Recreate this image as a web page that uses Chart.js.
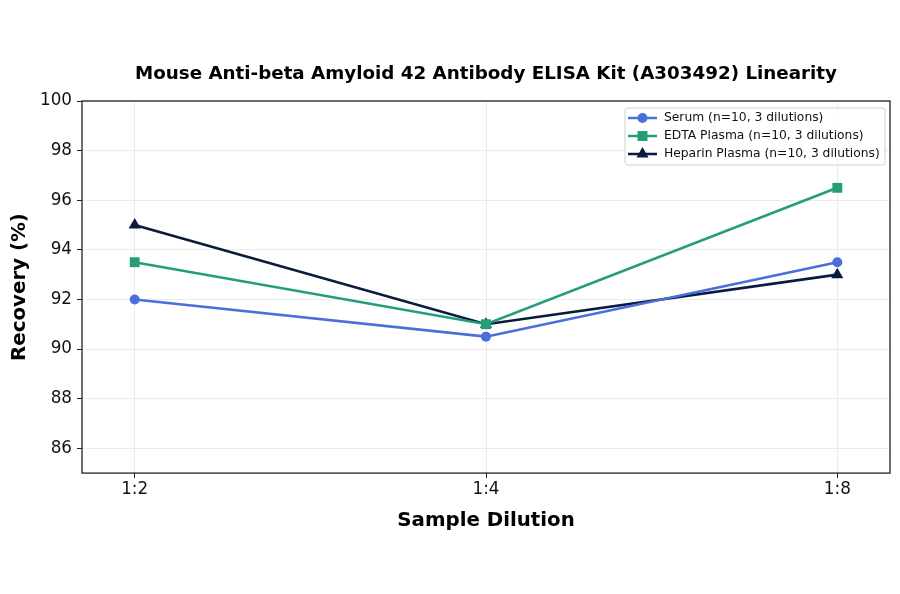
<!DOCTYPE html>
<html>
<head>
<meta charset="utf-8">
<script src="https://cdn.jsdelivr.net/npm/chart.js@4.4.0/dist/chart.umd.min.js"></script>
<style>
  html, body { margin: 0; padding: 0; background: #fff; }
  #wrap { width: 900px; height: 594px; }
</style>
</head>
<body>
<div id="wrap"><canvas id="grafico" width="900" height="594"></canvas></div>
<script>
// Dados
const diluicoes = ['1:2', '1:4', '1:8'];
const serum = [92, 90.5, 93.5];
const edta = [93.5, 91, 96.5];
const heparin = [95, 91, 93];
const yTicks = [86, 88, 90, 92, 94, 96, 98, 100];

const titulo = 'Mouse Anti-beta Amyloid 42 Antibody ELISA Kit (A303492) Linearity';
const nomes = ['Serum (n=10, 3 dilutions)', 'EDTA Plasma (n=10, 3 dilutions)', 'Heparin Plasma (n=10, 3 dilutions)'];
const cores = ['#4a6fdc', '#239e79', '#0b1a3f'];
const marcadores = ['circle', 'rect', 'triangle'];
const raios = [5, 7, 7];

const pontos = arr => arr.map((v, i) => ({ x: i, y: v }));
const FONTE = "'DejaVu Sans', sans-serif";

// título centrado sobre a área do gráfico + moldura completa
const moldura = {
  id: 'moldura',
  afterDraw(chart) {
    const { ctx, chartArea: a } = chart;
    ctx.save();
    ctx.strokeStyle = '#222';
    ctx.lineWidth = 1.3;
    ctx.strokeRect(a.left, a.top, a.right - a.left, a.bottom - a.top);
    ctx.fillStyle = '#000';
    ctx.font = 'bold 18.3px ' + FONTE;
    ctx.textAlign = 'center';
    ctx.textBaseline = 'middle';
    ctx.fillText(titulo, (a.left + a.right) / 2, a.top - 27);
    ctx.restore();
  }
};

// legenda dentro da área, canto superior direito
const legenda = {
  id: 'legenda',
  afterDraw(chart) {
    const { ctx, chartArea: a } = chart;
    const w = 260, h = 57;
    const x0 = a.right - w - 5, y0 = a.top + 7;
    ctx.save();
    ctx.fillStyle = 'rgba(255,255,255,0.85)';
    ctx.strokeStyle = '#d0d0d0';
    ctx.lineWidth = 1;
    ctx.beginPath();
    ctx.roundRect(x0, y0, w, h, 3);
    ctx.fill();
    ctx.stroke();
    ctx.font = '12.3px ' + FONTE;
    ctx.textBaseline = 'middle';
    chart.data.datasets.forEach((ds, i) => {
      const y = y0 + 10 + i * 18;
      ctx.strokeStyle = ds.borderColor;
      ctx.lineWidth = 2.5;
      ctx.beginPath();
      ctx.moveTo(x0 + 3, y);
      ctx.lineTo(x0 + 32, y);
      ctx.stroke();
      ctx.fillStyle = ds.borderColor;
      Chart.helpers.drawPoint(ctx, { pointStyle: ds.pointStyle, radius: ds.pointRadius, borderWidth: 0 }, x0 + 17.5, y);
      ctx.fillStyle = '#111';
      ctx.fillText(ds.label, x0 + 39, y);
    });
    ctx.restore();
  }
};

const datasets = [serum, edta, heparin].map((arr, i) => ({
  label: nomes[i],
  data: pontos(arr),
  borderColor: cores[i],
  backgroundColor: cores[i],
  borderWidth: 2.6,
  pointStyle: marcadores[i],
  pointRadius: raios[i],
  pointBorderWidth: 0,
  tension: 0
}));

new Chart(document.getElementById('grafico').getContext('2d'), {
  type: 'line',
  data: { datasets },
  options: {
    responsive: false,
    animation: false,
    layout: { padding: { top: 101, right: 10, bottom: 57, left: 4 } },
    plugins: {
      legend: { display: false },
      tooltip: { enabled: false },
      title: { display: false }
    },
    scales: {
      x: {
        type: 'linear',
        min: -0.15,
        max: 2.15,
        afterBuildTicks: axis => { axis.ticks = diluicoes.map((_, i) => ({ value: i })); },
        ticks: {
          callback: v => diluicoes[v],
          color: '#111',
          font: { family: FONTE, size: 16.8 },
          padding: 1
        },
        grid: { color: '#ebebeb', lineWidth: 1, tickColor: '#222', tickLength: 5 },
        border: { display: false },
        title: {
          display: true,
          text: 'Sample Dilution',
          color: '#000',
          font: { family: FONTE, size: 19.8, weight: 'bold' },
          padding: { top: 9 }
        }
      },
      y: {
        min: 85,
        max: 100,
        afterBuildTicks: axis => { axis.ticks = yTicks.map(v => ({ value: v })); },
        afterFit: axis => { axis.width = 78; },
        ticks: {
          color: '#111',
          font: { family: FONTE, size: 16.8 },
          padding: 5
        },
        grid: { color: '#ebebeb', lineWidth: 1, tickColor: '#222', tickLength: 5 },
        border: { display: false },
        title: {
          display: true,
          text: 'Recovery (%)',
          color: '#000',
          font: { family: FONTE, size: 19.8, weight: 'bold' },
          padding: { bottom: 2 }
        }
      }
    }
  },
  plugins: [moldura, legenda]
});
</script>
</body>
</html>
